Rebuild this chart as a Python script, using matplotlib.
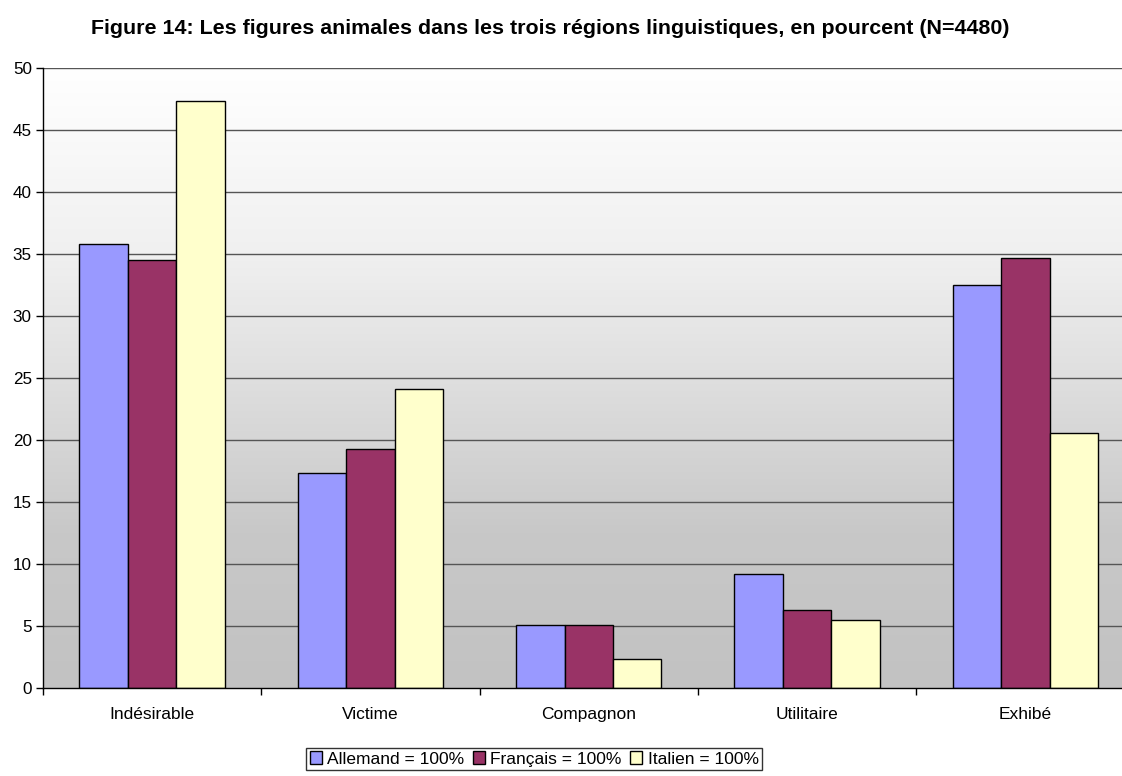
import numpy as np
import matplotlib
matplotlib.use("Agg")
import matplotlib.pyplot as plt
from matplotlib.colors import LinearSegmentedColormap
from matplotlib.patches import Patch

categories = ["Indésirable", "Victime", "Compagnon", "Utilitaire", "Exhibé"]
series_names = ["Allemand = 100%", "Français = 100%", "Italien = 100%"]
allemand = [35.8, 17.3, 5.1, 9.2, 32.5]
francais = [34.5, 19.3, 5.1, 6.3, 34.7]
italien = [47.3, 24.1, 2.3, 5.5, 20.6]
colors = ["#9999FF", "#993366", "#FFFFCC"]
title = "Figure 14: Les figures animales dans les trois régions linguistiques, en pourcent (N=4480)"

plt.rcParams["font.family"] = ["Liberation Sans", "DejaVu Sans"]

fig = plt.figure(figsize=(11.22, 7.76), dpi=100)
W, H = 1122, 776
left, right, top, bottom = 43, 1134.5, 68, 688
ax = fig.add_axes([left / W, 1 - bottom / H, (right - left) / W, (bottom - top) / H])

n = len(categories)
ax.set_xlim(0, n)
ax.set_ylim(0, 50)

# vertical gradient background: white at top fading to grey
cmap = LinearSegmentedColormap.from_list(
    "bg", [(0.0, "#c2c2c2"), (0.25, "#c8c8c8"), (0.5, "#dfdfdf"), (0.7, "#f0f0f0"), (1.0, "#ffffff")])
grad = np.linspace(0, 1, 256).reshape(-1, 1)
ax.imshow(grad, cmap=cmap, aspect="auto", extent=[0, n, 0, 50], origin="lower", zorder=0)

for y in range(5, 51, 5):
    ax.axhline(y, color="#555555", lw=1.0, zorder=1)

bw = 0.222
x = np.arange(n) + 0.5
for i, (vals, c, name) in enumerate(zip([allemand, francais, italien], colors, series_names)):
    ax.bar(x + (i - 1) * bw, vals, width=bw, color=c, edgecolor="black", linewidth=1.0,
           zorder=2, label=name)

for s in ["top", "right"]:
    ax.spines[s].set_visible(False)
for s in ["left", "bottom"]:
    ax.spines[s].set_color("black")
    ax.spines[s].set_linewidth(1.0)
    ax.spines[s].set_zorder(3)

ax.set_yticks(range(0, 51, 5))
ax.tick_params(axis="y", direction="out", length=5, width=1, labelsize=12.3, pad=3)
ax.set_xticks(np.arange(0, n + 1))
ax.set_xticklabels([])
ax.set_xticks(x, minor=True)
ax.set_xticklabels(categories, minor=True, fontsize=12.5)
ax.tick_params(axis="x", which="major", direction="out", length=5, width=1)
ax.tick_params(axis="x", which="minor", length=0, pad=14)

fig.text(550 / W, 1 - 34 / H, title, ha="center", va="baseline", fontsize=15.4,
         fontweight="bold")

handles = [Patch(facecolor=c, edgecolor="black", linewidth=1.0) for c in colors]
leg = fig.legend(handles, series_names, loc="upper right", bbox_to_anchor=(762 / W, 1 - 748 / H),
                 ncol=3, fontsize=12.5, frameon=True, fancybox=False, handlelength=0.7,
                 handleheight=0.7, handletextpad=0.3, columnspacing=0.5, borderpad=0.2,
                 borderaxespad=0)
leg.get_frame().set_edgecolor("black")
leg.get_frame().set_linewidth(1.0)

fig.savefig("out.png", dpi=100)
